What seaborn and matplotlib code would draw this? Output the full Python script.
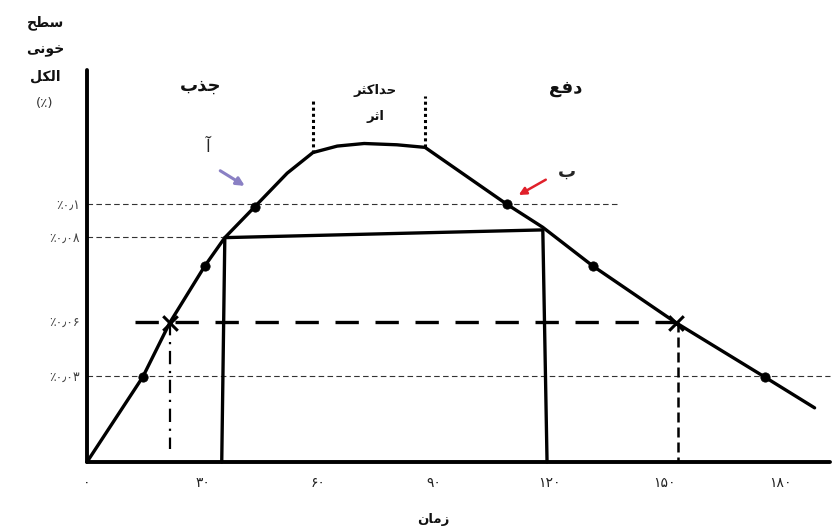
import numpy as np
import pandas as pd
import matplotlib
matplotlib.use('Agg')
import matplotlib.pyplot as plt
import seaborn as sns

# ---------------- data ----------------
# time in minutes, level in drawn units (0.1 % line = 100)
time_min = [0, 14.5, 21.5, 30.6, 35.8, 43.6, 52, 58.7, 65, 72, 80.5, 87.8,
            109, 118.4, 131.4, 153, 176, 189]
level = [0, 33, 54, 76, 87, 99, 112, 120, 122.5, 123.5, 123, 122,
         100, 91, 76, 54, 33, 21]
dot_time = [14.5, 30.6, 43.6, 109, 131.4, 176]
dot_level = [33, 76, 99, 100, 76, 33]
cross_time = [21.5, 153]
cross_level = [54, 54]
rect_time = [35.0, 35.8, 118.4, 119.5]
rect_level = [0, 87, 90, 0]
x_ticks = [0, 30, 60, 90, 120, 150, 180]
x_tick_labels = ['۰', '۳۰', '۶۰', '۹۰', '۱۲۰', '۱۵۰', '۱۸۰']
y_ticks = [33.3, 54.3, 87.2, 100]
y_tick_labels = ['٪۰٫۰۳', '٪۰٫۰۶', '٪۰٫۰۸', '٪۰٫۱']
peak_start, peak_end = 58.7, 87.8

# ---------------- minimal Arabic/Persian shaping ----------------
FORMS = {
    'ا': ('\uFE8D', '\uFE8E', None, None),
    'آ': ('\uFE81', '\uFE82', None, None),
    'ب': ('\uFE8F', '\uFE90', '\uFE91', '\uFE92'),
    'ث': ('\uFE99', '\uFE9A', '\uFE9B', '\uFE9C'),
    'ج': ('\uFE9D', '\uFE9E', '\uFE9F', '\uFEA0'),
    'ح': ('\uFEA1', '\uFEA2', '\uFEA3', '\uFEA4'),
    'خ': ('\uFEA5', '\uFEA6', '\uFEA7', '\uFEA8'),
    'د': ('\uFEA9', '\uFEAA', None, None),
    'ذ': ('\uFEAB', '\uFEAC', None, None),
    'ر': ('\uFEAD', '\uFEAE', None, None),
    'ز': ('\uFEAF', '\uFEB0', None, None),
    'س': ('\uFEB1', '\uFEB2', '\uFEB3', '\uFEB4'),
    'ط': ('\uFEC1', '\uFEC2', '\uFEC3', '\uFEC4'),
    'ع': ('\uFEC9', '\uFECA', '\uFECB', '\uFECC'),
    'ف': ('\uFED1', '\uFED2', '\uFED3', '\uFED4'),
    'ک': ('\uFB8E', '\uFB8F', '\uFB90', '\uFB91'),
    'ل': ('\uFEDD', '\uFEDE', '\uFEDF', '\uFEE0'),
    'م': ('\uFEE1', '\uFEE2', '\uFEE3', '\uFEE4'),
    'ن': ('\uFEE5', '\uFEE6', '\uFEE7', '\uFEE8'),
    'و': ('\uFEED', '\uFEEE', None, None),
    'ی': ('\uFBFC', '\uFBFD', '\uFBFE', '\uFBFF'),
}


def fa(word):
    chars = list(word)
    out = []
    for i, c in enumerate(chars):
        f = FORMS.get(c)
        if f is None:
            out.append(c)
            continue
        prev = FORMS.get(chars[i - 1]) if i > 0 else None
        nxt = FORMS.get(chars[i + 1]) if i + 1 < len(chars) else None
        jp = prev is not None and prev[2] is not None
        jn = f[2] is not None and nxt is not None
        if jp and jn:
            g = f[3]
        elif jp:
            g = f[1]
        elif jn:
            g = f[2]
        else:
            g = f[0]
        out.append(g)
    return ''.join(reversed(out))


# ---------------- plotting ----------------
sns.set_style('white')
plt.rcParams['font.family'] = ['DejaVu Sans']

fig = plt.figure(figsize=(8.35, 5.31), dpi=100)
ax = fig.add_axes([87 / 835, 69 / 531, 743 / 835, 392 / 531])
ax.set_xlim(0, 193)
ax.set_ylim(0, 152)

curve = pd.DataFrame({'time': time_min, 'level': level})
sns.lineplot(data=curve, x='time', y='level', ax=ax, color='black',
             lw=2.4, sort=False, clip_on=False)

# thin reference dashed lines
ax.plot([0, 138.5], [100, 100], color='#333333', lw=0.8, ls=(0, (5, 3)))
ax.plot([0, 35.8], [87.2, 87.2], color='#333333', lw=0.8, ls=(0, (5, 3)))
ax.plot([0, 193], [33.3, 33.3], color='#333333', lw=0.8, ls=(0, (5, 3)),
        clip_on=False)

# rectangle (solid)
ax.plot(rect_time, rect_level, color='black', lw=2.4, clip_on=False)

# thick dashed at 0.06
ax.plot([12.5, 153], [54.3, 54.3], color='black', lw=2.4, ls=(0, (7, 5)))
ax.plot([21.5, 21.5], [54.3, 5], color='black', lw=1.6, ls=(0, (6, 3, 1, 3)))
ax.plot([153.5, 153.5], [54.3, 0], color='black', lw=1.8, ls=(0, (4, 2)))

# dotted markers of max effect
ax.plot([peak_start, peak_start], [120, 140], color='black', lw=2.2,
        ls=(0, (1, 1)))
ax.plot([peak_end, peak_end], [122, 142], color='black', lw=2.2,
        ls=(0, (1, 1)))

dots = pd.DataFrame({'time': dot_time, 'level': dot_level})
sns.scatterplot(data=dots, x='time', y='level', ax=ax, color='black',
                s=45, marker='o', edgecolor='black', zorder=5)
crosses = pd.DataFrame({'time': cross_time, 'level': cross_level})
sns.scatterplot(data=crosses, x='time', y='level', ax=ax, color='black',
                s=110, marker='x', linewidth=2.2, zorder=5)

# axes styling
for side in ['top', 'right']:
    ax.spines[side].set_visible(False)
for side in ['left', 'bottom']:
    ax.spines[side].set_linewidth(2.8)
    ax.spines[side].set_color('black')
    ax.spines[side].set_capstyle('round')
ax.set_xticks(x_ticks)
ax.set_xticklabels(x_tick_labels, fontsize=10, color='#222222')
ax.set_yticks(y_ticks)
ax.set_yticklabels(y_tick_labels, fontsize=9, color='#444444')
ax.tick_params(axis='x', direction='in', length=6, width=1.5, pad=10)
ax.tick_params(axis='y', length=0, pad=5)
ax.set_xlabel('')
ax.set_ylabel('')

# annotations
bold = dict(fontweight='bold', color='#111111', ha='center', va='center')
ax.text(29.4, 146, fa('جذب'), fontsize=13, **bold)
ax.text(124.4, 145, fa('دفع'), fontsize=13, **bold)
ax.text(74.8, 144, fa('حداکثر'), fontsize=9.5, **bold)
ax.text(74.8, 134, fa('اثر'), fontsize=9.5, **bold)
ax.text(31.4, 122, fa('آ'), fontsize=12, ha='center', va='center')
ax.text(124.6, 112.5, fa('ب'), fontsize=13, fontweight='bold',
        ha='center', va='center')
ax.annotate('', xy=(41.6, 106.5), xytext=(34.0, 113.5),
            arrowprops=dict(arrowstyle='-|>', color='#8a80c4', lw=2.2,
                            mutation_scale=12))
ax.annotate('', xy=(111.5, 103), xytext=(119.8, 110),
            arrowprops=dict(arrowstyle='-|>', color='#e0202a', lw=1.8,
                            mutation_scale=11))

fig.text(433 / 835, 1 - 519 / 531, fa('زمان'), fontsize=9.5, **bold)
for yy, word in zip([23, 50, 76], ['سطح', 'خونی', 'الکل']):
    fig.text(45 / 835, 1 - yy / 531, fa(word), fontsize=10, **bold)
fig.text(45 / 835, 1 - 103 / 531, '(٪)', fontsize=9.5, color='#333333',
         ha='center', va='center')

fig.savefig('out.png', dpi=100)
